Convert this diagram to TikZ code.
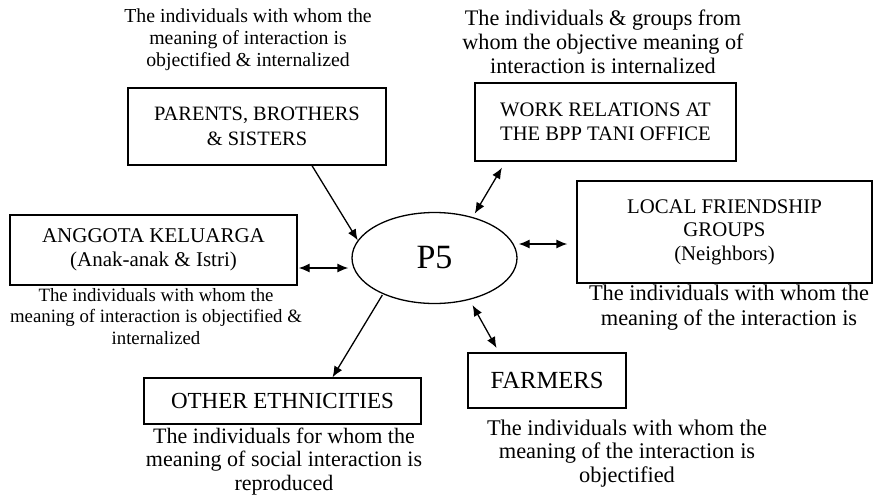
\documentclass[tikz,border=0pt]{standalone}
\usepackage{fontspec}
\setmainfont{Liberation Serif}
\usetikzlibrary{shapes.geometric,arrows.meta}
\begin{document}
\begin{tikzpicture}[x=1pt,y=-1pt,
  box/.style={draw, line width=1.3pt, inner sep=0pt, align=center},
  captext/.style={align=center, inner sep=0pt},
  link/.style={line width=1.3pt, -{Latex[length=11pt,width=9pt]}},
  dlink/.style={line width=1.3pt, {Latex[length=11pt,width=9pt]}-{Latex[length=11pt,width=9pt]}},
]
\useasboundingbox (0,0) rectangle (874,498);

% central actor
\node[draw, ellipse, line width=1.3pt, inner sep=0pt, minimum width=165pt, minimum height=91pt,
      font=\fontsize{34}{38}\selectfont] (p5) at (434.5,258) {P5};

% upper left
\node[captext, font=\fontsize{19.8}{22}\selectfont] (capTL) at (248,40)
  {The individuals with whom the\\meaning of interaction is\\objectified \& internalized};
\node[box, minimum width=258pt, minimum height=77pt, font=\fontsize{20.4}{25}\selectfont]
  (parents) at (257,126.5) {PARENTS, BROTHERS\\\& SISTERS};

% upper right
\node[captext, font=\fontsize{22.2}{24}\selectfont] (capTR) at (603,42)
  {The individuals \& groups from\\whom the objective meaning of\\interaction is internalized};
\node[box, minimum width=261pt, minimum height=78pt, font=\fontsize{20.6}{24}\selectfont]
  (work) at (605.5,122) {WORK RELATIONS AT\\THE BPP TANI OFFICE};

% right
\node[box, minimum width=295pt, minimum height=102pt, font=\fontsize{20.8}{23.5}\selectfont]
  (local) at (724.5,232) {LOCAL FRIENDSHIP\\GROUPS\\(Neighbors)};
\node[captext, font=\fontsize{22.4}{25}\selectfont] (capLocal) at (729,307.5)
  {The individuals with whom the\\meaning of the interaction is};

% left
\node[box, minimum width=287pt, minimum height=70pt, font=\fontsize{21}{24}\selectfont]
  (anggota) at (153.5,250) {ANGGOTA KELUARGA\\(Anak-anak \& Istri)};
\node[captext, font=\fontsize{18.8}{21.5}\selectfont] (capAng) at (156,316.5)
  {The individuals with whom the\\meaning of interaction is objectified \&\\internalized};

% lower left
\node[box, minimum width=277pt, minimum height=46pt, font=\fontsize{23}{26}\selectfont]
  (other) at (282.5,401) {OTHER ETHNICITIES};
\node[captext, font=\fontsize{22}{23.5}\selectfont] (capOther) at (284,461.5)
  {The individuals for whom the\\meaning of social interaction is\\reproduced};

% lower right
\node[box, minimum width=158pt, minimum height=55pt, font=\fontsize{24.6}{27}\selectfont]
  (farmers) at (547,380.5) {FARMERS};
\node[captext, font=\fontsize{22.4}{23.5}\selectfont] (capFarm) at (627,453.5)
  {The individuals with whom the\\meaning of the interaction is\\objectified};

% connectors
\coordinate (angR) at ([yshift=-18pt]anggota.east);
\coordinate (p5R) at ([yshift=14pt]p5.east);

\draw[link] ([xshift=55pt]parents.south) -- (p5.167);
\draw[dlink, shorten <=1pt, shorten >=3pt] (angR) -- (angR -| p5.west);
\draw[link, shorten <=1pt] (p5.215) -- ([xshift=50pt]other.north);
\draw[dlink, shorten <=7pt, shorten >=4pt] ([xshift=-100pt]work.south) -- (p5.47);
\draw[dlink, shorten <=1pt, shorten >=9pt] (p5R) -- (p5R -| local.west);
\draw[dlink, shorten <=6pt, shorten >=5pt] (p5.310) -- ([xshift=-48pt]farmers.north);
\end{tikzpicture}
\end{document}
